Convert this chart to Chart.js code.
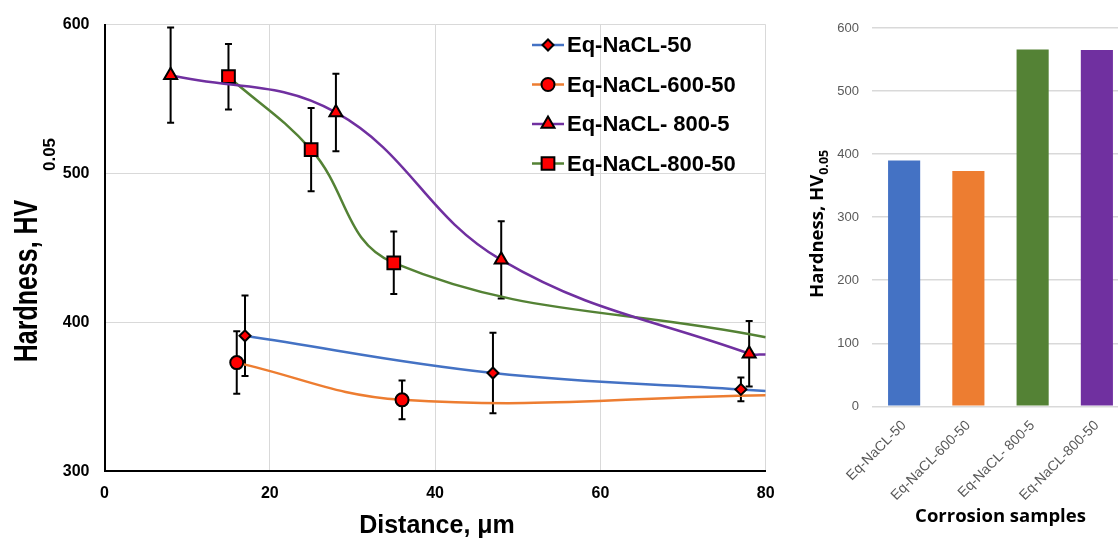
<!DOCTYPE html>
<html><head><meta charset="utf-8">
<script src="https://cdn.jsdelivr.net/npm/chart.js@4.4.0/dist/chart.umd.min.js"></script>
<style>
html,body{margin:0;padding:0;background:#fff;overflow:hidden;width:1118px;height:538px;}
#wrap{position:relative;width:1118px;height:538px;overflow:hidden;background:#fff;}
#c1{position:absolute;left:0;top:0;}
#c2{position:absolute;left:790px;top:0;}
</style></head><body>
<div id="wrap"><canvas id="c1" width="790" height="538"></canvas><canvas id="c2" width="345" height="538"></canvas></div>
<script>
// ---------- data ----------
const seriesNames = ['Eq-NaCL-50', 'Eq-NaCL-600-50', 'Eq-NaCL- 800-5', 'Eq-NaCL-800-50'];
// distance (µm), hardness, error (null = end of curve at axis edge, no marker)
const nacl50X   = [17, 47, 77, 80];
const nacl50Y   = [391, 366, 355, 354];
const nacl50Err = [27, 27, 8, null];
const nacl600X   = [16, 36, 80];
const nacl600Y   = [373, 348, 351];
const nacl600Err = [21, 13, null];
const nacl8005X   = [8, 28, 48, 78, 80];
const nacl8005Y   = [566, 541, 442, 379, 378.5];
const nacl8005Err = [32, 26, 26, 22, null];
const nacl80050X   = [15, 25, 35, 80];
const nacl80050Y   = [565, 516, 440, 390];
const nacl80050Err = [22, 28, 21, null];

const barCategories = ['Eq-NaCL-50', 'Eq-NaCL-600-50', 'Eq-NaCL- 800-5', 'Eq-NaCL-800-50'];
const barValues = [390, 373, 566, 565];

const lineXTicks = [0, 20, 40, 60, 80];
const lineYTicks = [300, 400, 500, 600];
const barYTicks = [0, 100, 200, 300, 400, 500, 600];

// ---------- styles ----------
const lineColors = ['#4472C4', '#ED7D31', '#7030A0', '#548235'];
const markerStyles = ['rectRot', 'circle', 'triangle', 'rect'];
const markerRadius = [5.5, 6.5, 7.5, 9];
const barColors = ['#4472C4', '#ED7D31', '#548235', '#7030A0'];
const BOLD = 'bold';
const FAM = '"Liberation Sans", Arial, sans-serif';

function pts(xs, ys) { return xs.map((x, i) => ({x: x, y: ys[i]})); }
const lineXs = [nacl50X, nacl600X, nacl8005X, nacl80050X];
const lineYs = [nacl50Y, nacl600Y, nacl8005Y, nacl80050Y];
const lineErrs = [nacl50Err, nacl600Err, nacl8005Err, nacl80050Err];

const datasets = seriesNames.map((name, i) => ({
  label: name,
  data: pts(lineXs[i], lineYs[i]),
  errors: lineErrs[i],
  borderColor: lineColors[i],
  borderWidth: 2.5,
  tension: 0.4,
  fill: false,
  pointStyle: markerStyles[i],
  pointRadius: ctx => (lineErrs[i][ctx.dataIndex] == null ? 0 : markerRadius[i]),
  pointHoverRadius: ctx => (lineErrs[i][ctx.dataIndex] == null ? 0 : markerRadius[i]),
  pointBackgroundColor: '#FF0000',
  pointBorderColor: '#000000',
  pointBorderWidth: 2
}));

const errorBars = {
  id: 'errorBars',
  beforeDatasetsDraw(chart) {
    const ctx = chart.ctx, xs = chart.scales.x, ys = chart.scales.y;
    ctx.save();
    ctx.strokeStyle = '#000';
    ctx.lineWidth = 2;
    chart.data.datasets.forEach(ds => {
      ds.data.forEach((p, j) => {
        const e = ds.errors[j];
        if (e == null) return;
        const px = xs.getPixelForValue(p.x);
        const yt = ys.getPixelForValue(p.y + e);
        const yb = ys.getPixelForValue(p.y - e);
        ctx.beginPath();
        ctx.moveTo(px, yt); ctx.lineTo(px, yb);
        ctx.moveTo(px - 3.5, yt); ctx.lineTo(px + 3.5, yt);
        ctx.moveTo(px - 3.5, yb); ctx.lineTo(px + 3.5, yb);
        ctx.stroke();
      });
    });
    ctx.restore();
  }
};

const leftDecor = {
  id: 'leftDecor',
  afterDraw(chart) {
    const ctx = chart.ctx;
    ctx.save();
    // legend
    chart.data.datasets.forEach((ds, i) => {
      const y = 45 + i * 39.5;
      ctx.strokeStyle = ds.borderColor;
      ctx.lineWidth = 2.5;
      ctx.beginPath(); ctx.moveTo(532, y); ctx.lineTo(564, y); ctx.stroke();
      ctx.fillStyle = '#FF0000';
      ctx.strokeStyle = '#000';
      ctx.lineWidth = 2;
      Chart.helpers.drawPoint(ctx, {pointStyle: markerStyles[i], radius: markerRadius[i], rotation: 0, borderWidth: 2}, 548, y);
      ctx.fillStyle = '#000';
      ctx.font = BOLD + ' 22px ' + FAM;
      ctx.textAlign = 'left';
      ctx.textBaseline = 'middle';
      ctx.fillText(ds.label, 567, y + 1);
    });
    // x title
    ctx.fillStyle = '#000';
    ctx.font = BOLD + ' 25px ' + FAM;
    ctx.textAlign = 'center';
    ctx.textBaseline = 'alphabetic';
    ctx.fillText('Distance, μm', 437, 533);
    // y title
    ctx.save();
    ctx.translate(36.5, 281);
    ctx.rotate(-Math.PI / 2);
    ctx.scale(1, 1.3);
    ctx.font = BOLD + ' 25px ' + FAM;
    ctx.fillText('Hardness, HV', 0, 0);
    ctx.restore();
    ctx.save();
    ctx.translate(55, 154.5);
    ctx.rotate(-Math.PI / 2);
    ctx.font = BOLD + ' 17px ' + FAM;
    ctx.textAlign = 'center';
    ctx.fillText('0.05', 0, 0);
    ctx.restore();
    ctx.restore();
  }
};

new Chart(document.getElementById('c1'), {
  type: 'line',
  data: {datasets: datasets},
  options: {
    responsive: false,
    animation: false,
    events: [],
    layout: {padding: {left: 0, top: 24, right: 24.3, bottom: 0}},
    plugins: {legend: {display: false}, tooltip: {enabled: false}},
    scales: {
      x: {
        type: 'linear', min: 0, max: 80,
        afterBuildTicks: s => { s.ticks = lineXTicks.map(v => ({value: v})); },
        afterFit: s => { s.height = 66.7; },
        grid: {color: '#d9d9d9', lineWidth: 1, drawTicks: false},
        border: {color: '#000', width: 2},
        ticks: {color: '#000', font: {family: FAM, size: 16, weight: 'bold'}, padding: 13, maxRotation: 0}
      },
      y: {
        type: 'linear', min: 300, max: 600,
        afterBuildTicks: s => { s.ticks = lineYTicks.map(v => ({value: v})); },
        afterFit: s => { s.width = 104.5; },
        grid: {color: '#d9d9d9', lineWidth: 1, drawTicks: false},
        border: {color: '#000', width: 2},
        ticks: {color: '#000', font: {family: FAM, size: 16, weight: 'bold'}, padding: 15}
      }
    }
  },
  plugins: [errorBars, leftDecor]
});

// ---------- bar chart ----------
const OS = '"Open Sans", "Liberation Sans", sans-serif';
const rightDecor = {
  id: 'rightDecor',
  afterDraw(chart) {
    const ctx = chart.ctx;
    ctx.save();
    ctx.fillStyle = '#000';
    ctx.font = 'bold 18.5px ' + OS;
    ctx.textAlign = 'center';
    ctx.textBaseline = 'alphabetic';
    ctx.fillText('Corrosion samples', 210.5, 521.5);
    ctx.translate(33, 298);
    ctx.rotate(-Math.PI / 2);
    ctx.textAlign = 'left';
    ctx.font = 'bold 18.5px ' + OS;
    const main = 'Hardness, HV';
    ctx.fillText(main, 0, 0);
    const w = ctx.measureText(main).width;
    ctx.font = 'bold 12.5px ' + OS;
    ctx.fillText('0.05', w, 5);
    ctx.restore();
  }
};

new Chart(document.getElementById('c2'), {
  type: 'bar',
  data: {
    labels: barCategories,
    datasets: [{data: barValues, backgroundColor: barColors, barPercentage: 0.5, categoryPercentage: 1.0}]
  },
  options: {
    responsive: false,
    animation: false,
    events: [],
    layout: {padding: {left: 0, top: 28, right: 6, bottom: 0}},
    plugins: {legend: {display: false}, tooltip: {enabled: false}},
    scales: {
      x: {
        afterFit: s => { s.height = 131.7; },
        grid: {display: false, drawTicks: false},
        border: {display: false},
        ticks: {color: '#595959', font: {family: FAM, size: 14}, maxRotation: 45, minRotation: 45, padding: 11}
      },
      y: {
        min: 0, max: 600,
        afterBuildTicks: s => { s.ticks = barYTicks.map(v => ({value: v})); },
        afterFit: s => { s.width = 82; },
        grid: {color: '#d9d9d9', lineWidth: 1.5, drawTicks: false},
        border: {display: false},
        ticks: {color: '#595959', font: {family: FAM, size: 13}, padding: 13}
      }
    }
  },
  plugins: [rightDecor]
});
</script>
</body></html>
